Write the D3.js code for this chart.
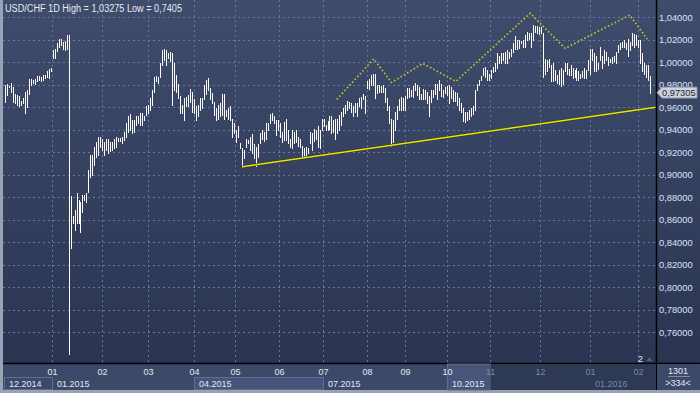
<!DOCTYPE html>
<html>
<head>
<meta charset="utf-8">
<script src="https://cdn.jsdelivr.net/npm/d3@7"></script>
<style>
  body { margin: 0; background: #2b3552; }
  svg { display: block; font-family: "Liberation Sans", Arial, sans-serif; }
</style>
</head>
<body>
<svg id="chart"></svg>
<script>
// daily bars (high / low)
const highs = [
  0.980,0.981,0.979,0.982,0.978,0.972,0.971,0.970,0.966,0.968,0.974,0.975,0.985,0.985,0.984,0.985,0.988,0.988,0.987,0.989,
  0.989,0.992,0.994,0.995,1.011,1.012,1.017,1.021,1.021,1.018,1.019,1.024,1.024,0.881,0.863,0.869,0.884,0.878,0.876,0.882,
  0.882,0.884,0.904,0.918,0.918,0.925,0.929,0.934,0.934,0.932,0.929,0.932,0.932,0.929,0.929,0.932,0.934,0.933,0.933,0.934,
  0.938,0.946,0.952,0.954,0.949,0.949,0.952,0.952,0.955,0.955,0.952,0.961,0.962,0.968,0.975,0.987,0.988,0.987,0.999,1.011,
  1.012,1.011,1.008,1.009,1.008,0.999,0.989,0.981,0.970,0.962,0.968,0.969,0.971,0.976,0.974,0.967,0.961,0.962,0.968,0.968,
  0.980,0.984,0.986,0.977,0.973,0.965,0.959,0.962,0.964,0.972,0.972,0.958,0.959,0.961,0.950,0.946,0.940,0.943,0.928,0.924,
  0.922,0.932,0.931,0.934,0.936,0.927,0.925,0.927,0.937,0.940,0.938,0.946,0.946,0.954,0.955,0.952,0.949,0.949,0.946,0.938,
  0.947,0.950,0.940,0.932,0.940,0.938,0.940,0.934,0.932,0.926,0.924,0.925,0.924,0.938,0.937,0.941,0.940,0.943,0.940,0.950,
  0.950,0.944,0.948,0.952,0.952,0.949,0.950,0.950,0.953,0.956,0.959,0.962,0.966,0.965,0.964,0.961,0.964,0.964,0.968,0.969,
  0.972,0.970,0.983,0.985,0.989,0.990,0.990,0.980,0.980,0.979,0.980,0.977,0.968,0.961,0.950,0.949,0.956,0.961,0.967,0.969,
  0.968,0.970,0.977,0.977,0.975,0.979,0.982,0.980,0.978,0.972,0.976,0.975,0.974,0.970,0.975,0.975,0.981,0.981,0.984,0.981,
  0.975,0.978,0.979,0.980,0.978,0.975,0.974,0.973,0.968,0.964,0.959,0.956,0.956,0.958,0.959,0.961,0.975,0.981,0.984,0.988,
  0.995,0.996,0.993,0.990,0.993,0.996,0.999,1.008,1.006,1.008,1.008,1.009,1.011,1.009,1.012,1.017,1.023,1.020,1.020,1.019,
  1.020,1.024,1.027,1.026,1.026,1.03275,1.032,1.032,1.031,1.031,1.026,1.003,1.002,1.003,0.998,0.999,0.993,0.989,0.993,0.995,
  0.993,0.999,0.999,0.994,0.998,0.995,0.993,0.995,0.992,0.990,0.992,0.995,0.993,1.002,1.012,1.012,1.008,1.006,0.999,1.014,
  1.006,1.011,1.009,1.005,1.003,1.005,1.006,1.009,1.015,1.017,1.018,1.020,1.017,1.021,1.018,1.026,1.025,1.024,1.020,1.020,
  1.008,0.999,0.998,0.998,0.988
];
const lows = [
  0.965,0.971,0.978,0.974,0.965,0.964,0.962,0.961,0.962,0.964,0.955,0.960,0.972,0.980,0.982,0.981,0.983,0.984,0.983,0.984,
  0.986,0.987,0.986,0.992,1.004,1.004,1.010,1.014,1.015,1.012,1.011,1.012,0.7405,0.835,0.857,0.851,0.857,0.857,0.849,0.867,
  0.878,0.876,0.885,0.898,0.900,0.909,0.916,0.918,0.925,0.922,0.918,0.922,0.919,0.921,0.922,0.924,0.925,0.930,0.930,0.928,
  0.931,0.934,0.938,0.940,0.937,0.938,0.944,0.946,0.944,0.944,0.949,0.953,0.955,0.958,0.962,0.974,0.983,0.982,0.987,0.998,
  1.002,0.998,1.004,1.001,0.962,0.975,0.974,0.968,0.955,0.955,0.949,0.961,0.961,0.965,0.956,0.955,0.949,0.952,0.958,0.959,
  0.967,0.972,0.975,0.967,0.964,0.953,0.949,0.950,0.952,0.953,0.950,0.952,0.950,0.949,0.934,0.937,0.929,0.934,0.924,0.907,
  0.915,0.925,0.928,0.922,0.919,0.915,0.908,0.916,0.928,0.932,0.930,0.932,0.940,0.946,0.949,0.946,0.935,0.940,0.934,0.929,
  0.931,0.931,0.928,0.925,0.924,0.928,0.929,0.926,0.925,0.916,0.916,0.916,0.919,0.928,0.922,0.930,0.932,0.925,0.924,0.940,
  0.943,0.940,0.940,0.941,0.937,0.938,0.932,0.937,0.940,0.944,0.952,0.955,0.958,0.959,0.956,0.952,0.956,0.952,0.961,0.959,
  0.967,0.955,0.977,0.976,0.980,0.980,0.968,0.973,0.974,0.974,0.974,0.965,0.958,0.946,0.926,0.929,0.940,0.950,0.958,0.958,
  0.958,0.958,0.968,0.969,0.970,0.969,0.975,0.971,0.967,0.967,0.967,0.967,0.964,0.952,0.965,0.969,0.972,0.967,0.975,0.970,
  0.969,0.973,0.971,0.964,0.968,0.966,0.966,0.962,0.958,0.956,0.948,0.947,0.949,0.950,0.952,0.954,0.958,0.975,0.980,0.984,
  0.989,0.987,0.984,0.984,0.986,0.991,0.992,0.995,0.999,0.999,1.002,0.999,0.999,1.004,1.006,1.009,1.012,1.012,1.013,1.017,
  1.014,1.014,1.020,1.021,1.014,1.020,1.027,1.026,1.025,1.026,0.987,0.990,0.992,0.996,0.983,0.983,0.984,0.982,0.981,0.979,
  0.981,0.992,0.990,0.989,0.989,0.986,0.987,0.984,0.984,0.986,0.987,0.986,0.986,0.993,0.990,1.002,0.992,0.992,0.994,1.002,
  0.995,0.999,1.002,0.998,1.000,0.999,1.001,0.999,1.009,1.012,1.014,1.014,1.012,1.006,1.011,1.015,1.014,1.015,1.014,0.999,
  0.992,0.990,0.987,0.984,0.973
];
const lastClose = 0.97305;

const yTicks = [0.76, 0.78, 0.80, 0.82, 0.84, 0.86, 0.88, 0.90, 0.92, 0.94, 0.96, 0.98, 1.00, 1.02, 1.04];

// month grid: label + index of first bar of the month
const monthLabels = ["01","02","03","04","05","06","07","08","09","10","11","12","01","02"];
const monthStarts = [24, 49, 72, 95, 116, 138, 160, 182, 201, 222, 244, 269, 294, 318];

const periodLabels = ["12.2014","01.2015","04.2015","07.2015","10.2015","01.2016"];
const periodStarts = [0, 24, 95, 160, 222, 294];

// support line (bar index, price)
const trendIdx = [119, 326.5];
const trendVal = [0.9072, 0.9600];

// dotted zigzag over the highs
const zigzagIdx = [166.4, 185.0, 193.9, 209.6, 226.2, 263.5, 281.0, 313.5, 322.3];
const zigzagVal = [0.967, 1.003, 0.982, 0.999, 0.983, 1.0436, 1.0124, 1.042, 1.0205];

const titleText = "USD/CHF 1D High = 1,03275 Low = 0,7405";
const scrollTotal = "1301";
const scrollShown = ">334<";

class BarChart {
  constructor(_config) {
    this.config = {
      parentElement: _config.parentElement,
      containerWidth: 700,
      containerHeight: 393,
      plot: { left: 3, right: 656, top: 0, bottom: 363 },
      axisBottom: 390
    };
    this.initVis();
  }

  initVis() {
    let vis = this;
    let c = vis.config;

    vis.svg = d3.select(c.parentElement)
        .attr('width', c.containerWidth)
        .attr('height', c.containerHeight);

    let defs = vis.svg.append('defs');
    let grad = defs.append('linearGradient')
        .attr('id', 'bg')
        .attr('x1', 0).attr('y1', 0).attr('x2', 0).attr('y2', 1);
    grad.append('stop').attr('offset', '0%').attr('stop-color', '#3f4c6c');
    grad.append('stop').attr('offset', '100%').attr('stop-color', '#2b3552');

    vis.xScale = d3.scaleLinear()
        .domain([0, highs.length - 1])
        .range([5.3, 650.7]);

    vis.yScale = d3.scaleLinear()
        .domain([0.74, 1.04])
        .range([354.8, 17.3]);

    vis.step = vis.xScale(1) - vis.xScale(0);

    vis.renderVis();
  }

  renderVis() {
    let vis = this;
    let c = vis.config;
    let p = c.plot;
    let fmt = d => d3.format('.5f')(d).replace('.', ',');

    // outer frame
    vis.svg.append('rect')
        .attr('width', c.containerWidth).attr('height', c.containerHeight)
        .attr('fill', '#9aa3b5');

    // plot + right axis background
    vis.svg.append('rect')
        .attr('x', p.left).attr('y', 0)
        .attr('width', c.containerWidth - p.left).attr('height', p.bottom)
        .attr('fill', 'url(#bg)');

    // bottom panel
    vis.svg.append('rect')
        .attr('x', p.left).attr('y', p.bottom)
        .attr('width', c.containerWidth - p.left).attr('height', c.axisBottom - p.bottom)
        .attr('fill', '#3c4968');

    // grid
    vis.svg.append('g')
      .selectAll('line')
      .data(yTicks)
      .join('line')
        .attr('x1', p.left).attr('x2', p.right)
        .attr('y1', d => Math.round(vis.yScale(d)) + 0.5)
        .attr('y2', d => Math.round(vis.yScale(d)) + 0.5)
        .attr('stroke', '#6676a0')
        .attr('stroke-dasharray', '2,3');

    let monthX = d => Math.round(vis.xScale(d) - vis.step / 2) + 0.5;

    vis.svg.append('g')
      .selectAll('line')
      .data(monthStarts)
      .join('line')
        .attr('x1', monthX).attr('x2', monthX)
        .attr('y1', 0).attr('y2', p.bottom)
        .attr('stroke', '#6676a0')
        .attr('stroke-dasharray', '2,3');

    // bars, 1px and pixel aligned
    let barX = i => Math.floor(vis.xScale(i)) + 0.5;
    vis.svg.append('g')
        .attr('shape-rendering', 'crispEdges')
      .selectAll('line')
      .data(highs)
      .join('line')
        .attr('x1', (d, i) => barX(i))
        .attr('x2', (d, i) => barX(i))
        .attr('y1', d => Math.round(vis.yScale(d)))
        .attr('y2', (d, i) => Math.round(vis.yScale(lows[i])) + 1)
        .attr('stroke', '#fffaf4')
        .attr('stroke-width', 1);

    // support line
    let trend = trendIdx.map((d, i) => [vis.xScale(d), vis.yScale(trendVal[i])]);
    vis.svg.append('path')
        .attr('d', d3.line()(trend))
        .attr('fill', 'none')
        .attr('stroke', '#3a3a10')
        .attr('stroke-width', 2.6);
    vis.svg.append('path')
        .attr('d', d3.line()(trend))
        .attr('fill', 'none')
        .attr('stroke', '#e4e41c')
        .attr('stroke-width', 1.5);

    // dotted zigzag
    let zig = zigzagIdx.map((d, i) => [vis.xScale(d), vis.yScale(zigzagVal[i])]);
    vis.svg.append('path')
        .attr('d', d3.line()(zig))
        .attr('fill', 'none')
        .attr('stroke', '#c8c81e')
        .attr('stroke-width', 1.6)
        .attr('stroke-dasharray', '1.6,2.2');

    // separators
    vis.svg.append('line')
        .attr('x1', p.right + 0.5).attr('x2', p.right + 0.5)
        .attr('y1', 0).attr('y2', c.axisBottom)
        .attr('stroke', '#000').attr('stroke-width', 1.5);
    vis.svg.append('line')
        .attr('x1', p.left).attr('x2', c.containerWidth)
        .attr('y1', p.bottom + 0.5).attr('y2', p.bottom + 0.5)
        .attr('stroke', '#000').attr('stroke-width', 1.5);

    // right axis labels
    vis.svg.append('g')
      .selectAll('text')
      .data(yTicks)
      .join('text')
        .attr('x', 659)
        .attr('y', d => vis.yScale(d))
        .attr('dy', '0.35em')
        .attr('font-size', '9.3px')
        .attr('fill', '#dbe3f7')
        .text(fmt);

    // last price tag
    let yc = vis.yScale(lastClose);
    let tag = vis.svg.append('g');
    tag.append('path')
        .attr('d', `M657,${yc} L662,${yc - 5.5} L697,${yc - 5.5} L697,${yc + 5.5} L662,${yc + 5.5} Z`)
        .attr('fill', '#ced2da')
        .attr('stroke', '#8d94a6');
    tag.append('text')
        .attr('x', 662).attr('y', yc).attr('dy', '0.35em')
        .attr('font-size', '9.3px')
        .attr('fill', '#1d2538')
        .text(d3.format('.5f')(lastClose).replace('.', ','));

    // title
    vis.svg.append('text')
        .attr('x', 5).attr('y', 12)
        .attr('font-size', '10px')
        .attr('textLength', 177)
        .attr('lengthAdjust', 'spacingAndGlyphs')
        .attr('fill', '#e6eaf3')
        .text(titleText);

    // bottom axis: period boxes
    let ends = periodStarts.slice(1).map(d => monthX(d)).concat([p.right]);
    let periods = periodStarts.map((d, i) => ({
      label: periodLabels[i],
      x0: i === 0 ? 4.5 : monthX(d),
      x1: ends[i],
      boxed: i % 2 === 0
    }));

    let pg = vis.svg.append('g');
    pg.selectAll('rect')
      .data(periods.filter(d => d.boxed))
      .join('rect')
        .attr('x', d => d.x0).attr('y', 377.5)
        .attr('width', d => d.x1 - d.x0).attr('height', 12)
        .attr('fill', (d, i) => i === 0 ? '#3c4968' : '#47557a')
        .attr('stroke', '#5f6d90');

    // navigator window
    let dimFrom = monthX(monthStarts[10]);
    vis.svg.append('rect')
        .attr('x', monthX(periodStarts[4])).attr('y', p.bottom + 1)
        .attr('width', dimFrom - monthX(periodStarts[4])).attr('height', c.axisBottom - p.bottom - 1)
        .attr('fill', '#47557a')
        .attr('stroke', '#5f6d90');
    vis.svg.append('rect')
        .attr('x', dimFrom).attr('y', p.bottom + 1)
        .attr('width', p.right - dimFrom).attr('height', c.axisBottom - p.bottom - 1)
        .attr('fill', '#2e3954');

    vis.svg.append('g')
      .selectAll('text')
      .data(periods)
      .join('text')
        .attr('x', d => d.x0 + 4.5)
        .attr('y', 387)
        .attr('font-size', '9px')
        .attr('fill', d => d.x0 >= dimFrom ? '#7c88a4' : '#e3e8f2')
        .text(d => d.label);

    // month labels
    vis.svg.append('g')
      .selectAll('text')
      .data(monthStarts)
      .join('text')
        .attr('x', monthX)
        .attr('y', 375)
        .attr('text-anchor', 'middle')
        .attr('font-size', '9px')
        .attr('fill', d => monthX(d) >= dimFrom ? '#7c88a4' : '#e3e8f2')
        .text((d, i) => monthLabels[i]);

    // corner
    vis.svg.append('rect')
        .attr('x', p.right + 1).attr('y', p.bottom + 1)
        .attr('width', c.containerWidth - p.right - 1).attr('height', c.axisBottom - p.bottom - 1)
        .attr('fill', '#3c4968');
    vis.svg.append('text')
        .attr('x', 678).attr('y', 374)
        .attr('text-anchor', 'middle')
        .attr('font-size', '9px')
        .attr('fill', '#e3e8f2')
        .text(scrollTotal);
    vis.svg.append('line')
        .attr('x1', 668).attr('x2', 690)
        .attr('y1', 376.5).attr('y2', 376.5)
        .attr('stroke', '#7e8aa6');
    vis.svg.append('text')
        .attr('x', 678).attr('y', 386)
        .attr('text-anchor', 'middle')
        .attr('font-size', '9px')
        .attr('fill', '#e3e8f2')
        .text(scrollShown);

    // bar counter near the corner
    vis.svg.append('text')
        .attr('x', 638).attr('y', 362)
        .attr('font-size', '9px')
        .attr('fill', '#e3e8f2')
        .text('2');
    vis.svg.append('path')
        .attr('d', 'M646.5,361 L649.5,357.5 L652.5,361 Z')
        .attr('fill', '#5c6684');
  }
}

new BarChart({ parentElement: '#chart' });
</script>
</body>
</html>
